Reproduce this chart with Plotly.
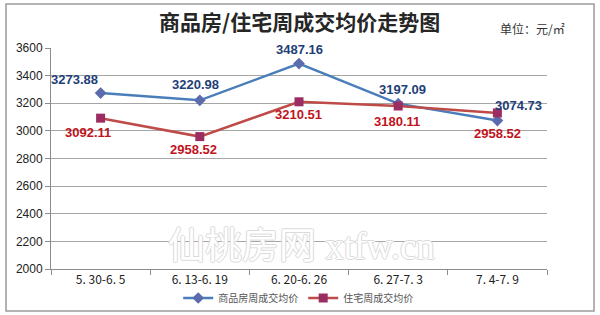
import plotly.graph_objects as go

categories = ["5. 30-6. 5", "6. 13-6. 19", "6. 20-6. 26", "6. 27-7. 3", "7. 4-7. 9"]
spf_values = [3273.88, 3220.98, 3487.16, 3197.09, 3074.73]
zz_values = [3092.11, 2958.52, 3210.51, 3180.11, 3130.0]
spf_labels = ["3273.88", "3220.98", "3487.16", "3197.09", "3074.73"]
zz_labels = ["3092.11", "2958.52", "3210.51", "3180.11", "2958.52"]
y_ticks = [2000, 2200, 2400, 2600, 2800, 3000, 3200, 3400, 3600]

fig = go.Figure()
fig.add_trace(go.Scatter(
    x=categories, y=spf_values, name="商品房周成交均价", mode="lines+markers",
    line=dict(color="#4A7EBB", width=2.5),
    marker=dict(symbol="diamond", size=9, color="#5B6BAE"),
))
fig.add_trace(go.Scatter(
    x=categories, y=zz_values, name="住宅周成交均价", mode="lines+markers",
    line=dict(color="#BE4B48", width=2.5),
    marker=dict(symbol="square", size=9, color="#9B2D62"),
))

# data label offsets (pixels)
spf_shift = [(-26, 14), (-4, 16), (0, 14), (4, 14), (21, 15)]
zz_shift = [(-13, -14), (-6, -13), (-1, -13), (-1, -15), (0, -21)]
for i, c in enumerate(categories):
    fig.add_annotation(x=c, y=spf_values[i], text="<b>" + spf_labels[i] + "</b>", showarrow=False,
                       xshift=spf_shift[i][0], yshift=spf_shift[i][1],
                       xanchor="center", yanchor="middle",
                       font=dict(family="Liberation Sans", size=13, color="#1F3F78"))
    fig.add_annotation(x=c, y=zz_values[i], text="<b>" + zz_labels[i] + "</b>", showarrow=False,
                       xshift=zz_shift[i][0], yshift=zz_shift[i][1],
                       xanchor="center", yanchor="middle",
                       font=dict(family="Liberation Sans", size=13, color="#C0141C"))

# watermark (outlined look)
fig.add_annotation(xref="paper", yref="paper", x=0.506, y=0.10, text="仙桃房网 xtfw.cn",
                   showarrow=False, xanchor="center", yanchor="middle",
                   font=dict(family="Liberation Serif, Noto Sans CJK SC", size=37, color="#FFFFFF",
                             shadow="1px 0 0 #DADADA, -1px 0 0 #DADADA, 0 1px 0 #DADADA, 0 -1px 0 #DADADA"))

# title and unit
fig.add_annotation(xref="paper", yref="paper", x=0.502, y=1.122, text="<b>商品房/住宅周成交均价走势图</b>",
                   showarrow=False, xanchor="center", yanchor="middle",
                   font=dict(family="Noto Sans CJK SC", size=21, color="#262626"))
fig.add_annotation(xref="paper", yref="paper", x=0.97, y=1.09, text="单位：元/㎡",
                   showarrow=False, xanchor="center", yanchor="middle",
                   font=dict(family="Noto Sans CJK SC", size=12, color="#333333"))

fig.update_layout(
    width=600, height=315,
    margin=dict(l=51, r=53, t=48, b=46, autoexpand=False),
    paper_bgcolor="white", plot_bgcolor="white",
    showlegend=True,
    legend=dict(orientation="h", x=0.497, xref="container", xanchor="center",
                y=1 - 298 / 315, yref="container", yanchor="middle",
                font=dict(family="Noto Sans CJK SC", size=10, color="#555555"),
                itemwidth=30, tracegroupgap=0, bgcolor="rgba(0,0,0,0)"),
    shapes=[dict(type="rect", xref="paper", yref="paper", x0=-0.0907, x1=1.0948, y0=-0.190, y1=1.199,
                 line=dict(color="#9A9A9A", width=1.5), fillcolor="rgba(0,0,0,0)", layer="below")],
)
fig.update_xaxes(
    type="category", showgrid=False, showline=True, linecolor="#8C8C8C", linewidth=1,
    ticks="outside", ticklen=5, tickcolor="#8C8C8C", tickson="boundaries",
    tickfont=dict(family="Noto Sans CJK SC", size=12, color="#222222"),
    range=[-0.5, 4.5],
)
fig.update_yaxes(
    range=[2000, 3600], tickvals=y_ticks, showgrid=True, gridcolor="#A6A6A6", gridwidth=1,
    showline=True, linecolor="#8C8C8C", linewidth=1, ticks="outside", ticklen=5, tickcolor="#8C8C8C",
    tickfont=dict(family="Liberation Sans", size=12, color="#222222"), zeroline=False,
)

fig.write_html("out.html")
